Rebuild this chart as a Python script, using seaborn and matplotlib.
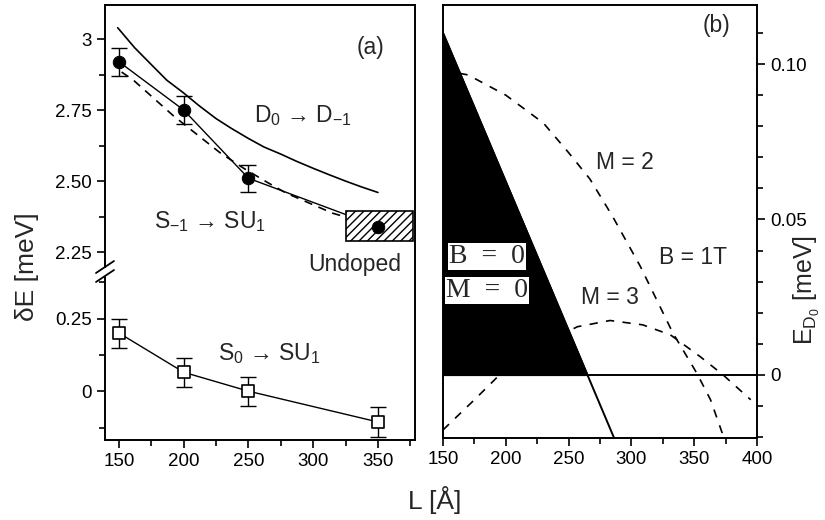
import matplotlib
matplotlib.use("Agg")
import matplotlib.pyplot as plt
import numpy as np
import seaborn as sns
from matplotlib.patches import Rectangle
from matplotlib.ticker import MultipleLocator

sns.set_style("ticks")
plt.rcParams["font.family"] = ["Liberation Sans", "DejaVu Sans"]
plt.rcParams["mathtext.fontset"] = "custom"
plt.rcParams["mathtext.rm"] = "Liberation Sans"
plt.rcParams["mathtext.it"] = "Liberation Sans"

# ---- panel (a), upper part: S_-1 -> SU_1 ----
L_s1 = [150, 200, 250, 350]
dE_s1 = [2.92, 2.75, 2.51, 2.34]
err_s1 = [0.05, 0.05, 0.048]

# dashed fit through S_-1 data
L_fit = [152, 161, 192, 228, 246, 264, 279, 315, 350]
dE_fit = [2.884, 2.856, 2.73, 2.60, 2.546, 2.497, 2.458, 2.387, 2.34]

# D_0 -> D_-1 theory curve
L_d = [149, 162, 175, 187, 200, 212, 225, 237, 250, 262, 275, 287, 300, 312, 325, 337, 350]
dE_d = [3.04, 2.97, 2.91, 2.855, 2.81, 2.765, 2.72, 2.685, 2.65, 2.62, 2.595, 2.57,
        2.545, 2.523, 2.50, 2.48, 2.46]

# undoped box (L range, dE range)
undoped_L = [325, 377]
undoped_E = [2.29, 2.395]

# ---- panel (a), lower part: S_0 -> SU_1 ----
L_s0 = [150, 200, 250, 350]
dE_s0 = [0.20, 0.065, 0.0, -0.106]
err_s0 = [0.05, 0.05, 0.05, 0.05]

# ---- panel (b) ----
L_b0 = [150, 288]
E_b0 = [0.110, -0.022]

L_m2 = [150, 170, 200, 230, 250, 267, 285, 307, 333, 352, 363, 373]
E_m2 = [0.098, 0.0965, 0.090, 0.081, 0.0715, 0.063, 0.051, 0.035, 0.0135, 0.0006, -0.008, -0.0195]

L_m3 = [150, 175, 195, 220, 257, 283, 309, 331, 355, 373, 395]
E_m3 = [-0.0177, -0.008, 0.0, 0.008, 0.0155, 0.0175, 0.0161, 0.0129, 0.0058, 0.0, -0.008]

W, H = 825, 520
fig = plt.figure(figsize=(W / 100, H / 100), dpi=100)


def frac(x0, y0, x1, y1):
    return [x0 / W, 1 - y1 / H, (x1 - x0) / W, (y1 - y0) / H]


ax_bot = fig.add_axes(frac(105, 272, 415, 440))
ax_top = fig.add_axes(frac(105, 5, 415, 272))
ax_b = fig.add_axes(frac(443, 5, 757, 438))
ax_top.patch.set_visible(False)

for ax in (ax_top, ax_bot, ax_b):
    for s in ax.spines.values():
        s.set_linewidth(1.4)
        s.set_color("black")
    ax.tick_params(which="both", direction="out", width=1.2, colors="black",
                   labelsize=13.5)
    ax.tick_params(which="major", length=6)
    ax.tick_params(which="minor", length=4)

# upper part of (a)
sns.lineplot(x=L_d, y=dE_d, ax=ax_top, color="black", lw=1.2)
sns.lineplot(x=L_fit, y=dE_fit, ax=ax_top, color="black", lw=1.2, linestyle=(0, (5, 4)))
sns.lineplot(x=L_s1, y=dE_s1, ax=ax_top, color="black", lw=1.0)
ax_top.errorbar(L_s1[:3], dE_s1[:3], yerr=err_s1, fmt="none", ecolor="black",
                elinewidth=1.0, capsize=6, capthick=1.0)
ax_top.add_patch(Rectangle((undoped_L[0], undoped_E[0]), undoped_L[1] - undoped_L[0],
                           undoped_E[1] - undoped_E[0], facecolor="white",
                           edgecolor="black", hatch="////", lw=1.2, zorder=3))
sns.scatterplot(x=L_s1, y=dE_s1, ax=ax_top, color="black", s=80, zorder=4,
                edgecolor="black")
ax_top.set_xlim(139.2, 378.6)
ax_top.set_ylim(2.18, 3.12)
ax_top.set_yticks([2.25, 2.5, 2.75, 3.0])
ax_top.set_yticklabels(["2.25", "2.50", "2.75", "3"])
ax_top.yaxis.set_minor_locator(MultipleLocator(0.125))
ax_top.set_xticks([])
ax_top.spines["bottom"].set_visible(False)
ax_top.set_xlabel("")
ax_top.set_ylabel("")

# lower part of (a)
sns.lineplot(x=L_s0, y=dE_s0, ax=ax_bot, color="black", lw=1.0)
ax_bot.errorbar(L_s0, dE_s0, yerr=err_s0, fmt="none", ecolor="black",
                elinewidth=1.0, capsize=6, capthick=1.0)
sns.scatterplot(x=L_s0, y=dE_s0, ax=ax_bot, marker="s", s=80, facecolor="white",
                edgecolor="black", linewidth=1.2, zorder=4)
ax_bot.set_xlim(139.2, 378.6)
ax_bot.set_ylim(-0.168, 0.41)
ax_bot.set_yticks([0.0, 0.25])
ax_bot.set_yticklabels(["0", "0.25"])
ax_bot.yaxis.set_minor_locator(MultipleLocator(0.125))
ax_bot.set_xticks([150, 200, 250, 300, 350])
ax_bot.xaxis.set_minor_locator(MultipleLocator(25))
ax_bot.spines["top"].set_visible(False)
ax_bot.set_xlabel("")
ax_bot.set_ylabel("")

# axis break marks
fig.add_artist(Rectangle((100 / W, 1 - 276 / H), 9 / W, 8 / H, facecolor="white",
                         edgecolor="none", transform=fig.transFigure))
for yy in (267, 276):
    fig.add_artist(plt.Line2D([96 / W, 114 / W], [1 - (yy + 6) / H, 1 - (yy - 6) / H],
                              color="black", lw=1.3))

txt = dict(fontsize=16.5, ha="center", va="center")
ax_top.text(344, 2.972, "(a)", **txt)
ax_top.text(292, 2.732, r"D$_0$ → D$_{\mathregular{-1}}$", **txt)
ax_top.text(220, 2.356, r"S$_{\mathregular{-1}}$ → SU$_1$", **txt)
ax_top.text(332, 2.208, "Undoped", **txt)
ax_bot.text(266, 0.13, r"S$_0$ → SU$_1$", **txt)

# panel (b)
Lb = np.array(L_b0, dtype=float)
Eb = np.array(E_b0)
ax_b.fill_between(Lb, Eb, 0, where=Eb >= 0, interpolate=True, color="black", zorder=1)
sns.lineplot(x=L_b0, y=E_b0, ax=ax_b, color="black", lw=1.4, zorder=2)
ax_b.axhline(0, color="black", lw=1.4, zorder=2)
sns.lineplot(x=L_m2, y=E_m2, ax=ax_b, color="black", lw=1.2, linestyle=(0, (5, 5)), zorder=0.5)
sns.lineplot(x=L_m3, y=E_m3, ax=ax_b, color="black", lw=1.2, linestyle=(0, (5, 5)), zorder=0.5)
ax_b.set_xlim(150, 400)
ax_b.set_ylim(-0.0203, 0.119)
ax_b.set_xticks([150, 200, 250, 300, 350, 400])
ax_b.xaxis.set_minor_locator(MultipleLocator(25))
ax_b.set_yticks([0.0, 0.05, 0.10])
ax_b.set_yticklabels(["0", "0.05", "0.10"])
ax_b.yaxis.set_minor_locator(MultipleLocator(0.01))
ax_b.yaxis.tick_right()
ax_b.set_xlabel("")
ax_b.set_ylabel("")

ax_b.text(368, 0.1123, "(b)", **txt)
ax_b.text(295, 0.0684, "M = 2", **txt)
ax_b.text(349, 0.0377, "B = 1T", **txt)
ax_b.text(283, 0.0248, "M = 3", **txt)
serif = ["Liberation Serif", "DejaVu Serif"]
box = dict(facecolor="white", edgecolor="none", pad=0.5)
ax_b.text(185, 0.038, "B  =  0", fontsize=20, family=serif, ha="center", va="center", bbox=box)
ax_b.text(185, 0.0271, "M  =  0", fontsize=20, family=serif, ha="center", va="center", bbox=box)

fig.text(27 / W, 1 - 267 / H, "δE [meV]", rotation=90, fontsize=19, ha="center", va="center")
fig.text(435 / W, 1 - 500 / H, "L [Å]", fontsize=19, ha="center", va="center")
fig.text(807 / W, 1 - 290 / H, r"E$_{D_0}$ [meV]", rotation=90, fontsize=18, ha="center", va="center")

fig.savefig("out.png", dpi=100)
